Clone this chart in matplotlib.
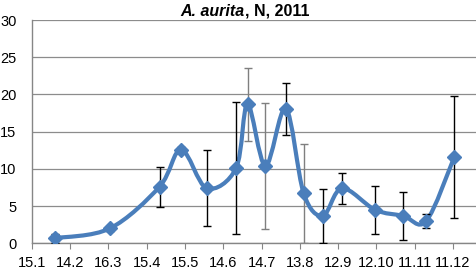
import matplotlib
matplotlib.use("Agg")
import matplotlib.pyplot as plt
import matplotlib.dates as mdates
from matplotlib.path import Path
from matplotlib.patches import PathPatch
import numpy as np

# sampling dates (2011) and mean abundance with SD
dates = ["2011-02-02", "2011-03-17", "2011-04-25", "2011-05-12", "2011-06-01",
         "2011-06-24", "2011-07-03", "2011-07-17", "2011-08-02", "2011-08-16",
         "2011-08-31", "2011-09-15", "2011-10-11", "2011-11-02", "2011-11-20",
         "2011-12-12"]
values = [0.7, 2.0, 7.6, 12.6, 7.4, 10.1, 18.7, 10.4, 18.1, 6.7,
          3.7, 7.4, 4.5, 3.7, 3.0, 11.6]
errors = [0.6, 0.3, 2.7, 0.4, 5.1, 8.9, 4.9, 8.5, 3.5, 6.6,
          3.6, 2.1, 3.2, 3.2, 0.9, 8.2]
err_gray = [False, False, False, False, False, False, True, True, False, True,
            False, False, False, False, False, False]
tick_start = "2011-01-15"
title_italic = "A. aurita"
title_rest = ", N, 2011"

blue = "#4A7EBB"
plt.rcParams['font.family'] = ['Liberation Sans', 'DejaVu Sans']

x = mdates.datestr2num(dates)
y = np.array(values)

fig = plt.figure(figsize=(4.76, 2.71), dpi=100)
ax = fig.add_axes([0.067, 0.102, 0.933, 0.824])

# smoothed line (Catmull-Rom style bezier, like Excel's smoothing)
pts = np.column_stack([x, y])
verts = [pts[0]]
codes = [Path.MOVETO]
n = len(pts)
for i in range(n - 1):
    p0 = pts[i - 1] if i > 0 else pts[i]
    p1 = pts[i]
    p2 = pts[i + 1]
    p3 = pts[i + 2] if i + 2 < n else pts[i + 1]
    c1 = p1 + (p2 - p0) / 6.0
    c2 = p2 - (p3 - p1) / 6.0
    verts += [c1, c2, p2]
    codes += [Path.CURVE4] * 3
ax.add_patch(PathPatch(Path(verts, codes), fill=False, edgecolor=blue,
                       lw=3.0, zorder=3, capstyle='round', joinstyle='round'))

for xi, yi, ei, g in zip(x, y, errors, err_gray):
    ax.errorbar(xi, yi, yerr=ei, fmt='none', ecolor='#7f7f7f' if g else 'black',
                elinewidth=1.0, capsize=3, capthick=1.0, zorder=2 if g else 4)

ax.plot(x, y, linestyle='none', marker='D', markersize=7.5, color=blue, zorder=5)

start = mdates.datestr2num(tick_start)
ticks = start + 30 * np.arange(12)
ax.set_xticks(ticks)
ax.set_xticklabels([mdates.num2date(t).strftime("%d.%m").lstrip("0").replace(".0", ".")
                    for t in ticks], fontsize=10.5)
ax.set_xlim(start, start + 348)
ax.set_ylim(0, 30)
ax.set_yticks(range(0, 31, 5))
ax.tick_params(axis='y', length=0, labelsize=10.5, pad=11)
ax.tick_params(axis='x', length=4, color='#868686', direction='out', pad=5)
ax.grid(axis='y', color='#8c8c8c', lw=0.9)
ax.set_axisbelow(True)
for s in ['top', 'right']:
    ax.spines[s].set_visible(False)
for s in ['left', 'bottom']:
    ax.spines[s].set_color('#868686')
    ax.spines[s].set_linewidth(1.0)

# title: italic species name followed by plain bold part
fig.canvas.draw()
r = fig.canvas.get_renderer()
t1 = fig.text(0, 0, title_italic, fontsize=11.5, fontweight='bold', style='italic')
t2 = fig.text(0, 0, title_rest, fontsize=11.5, fontweight='bold')
w1 = t1.get_window_extent(r).width
w2 = t2.get_window_extent(r).width
cx = 245
x0 = cx - (w1 + w2) / 2
ty = 271 - 16
t1.set_transform(None)
t2.set_transform(None)
t1.set_position((x0, ty))
t2.set_position((x0 + w1, ty))

fig.savefig("out.png", dpi=100)
